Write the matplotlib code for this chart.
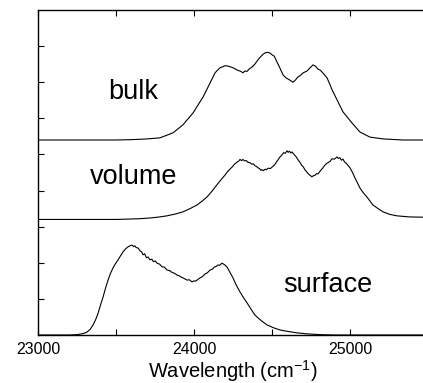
import matplotlib
matplotlib.use("Agg")
import matplotlib.pyplot as plt

plt.rcParams['font.family'] = ['Liberation Sans', 'DejaVu Sans']
plt.rcParams['mathtext.fontset'] = 'custom'
plt.rcParams['mathtext.rm'] = 'Liberation Sans'
plt.rcParams['mathtext.it'] = 'Liberation Sans'

# Spectra (wavenumber, intensity incl. vertical offset)
bulk_x = [23000, 23500, 23600, 23700, 23782, 23866, 23929, 23994, 24058, 24103,
          24135, 24150, 24167, 24185, 24200, 24212, 24230, 24245, 24263, 24280,
          24300, 24314, 24325, 24340, 24355, 24372, 24390, 24410, 24430, 24445,
          24455, 24470, 24487, 24500, 24515, 24532, 24550, 24571, 24590, 24610,
          24635, 24650, 24665, 24679, 24700, 24724, 24740, 24763, 24780, 24795,
          24808, 24830, 24853, 24870, 24885, 24917, 24955, 25013, 25064, 25128,
          25212, 25340, 25500]
bulk_y = [5.40, 5.40, 5.41, 5.43, 5.46, 5.60, 5.82, 6.15, 6.59, 6.98,
          7.26, 7.33, 7.40, 7.43, 7.46, 7.45, 7.43, 7.41, 7.37, 7.33,
          7.30, 7.26, 7.31, 7.30, 7.37, 7.42, 7.50, 7.62, 7.72, 7.78,
          7.81, 7.83, 7.81, 7.76, 7.72, 7.56, 7.40, 7.20, 7.12, 7.07,
          7.00, 7.06, 7.14, 7.18, 7.26, 7.31, 7.38, 7.48, 7.44, 7.36,
          7.34, 7.24, 7.12, 6.95, 6.79, 6.51, 6.18, 5.87, 5.62, 5.48,
          5.43, 5.40, 5.40]

volume_x = [23000, 23500, 23650, 23718, 23780, 23827, 23880, 23929, 23975, 24019,
            24050, 24083, 24115, 24147, 24175, 24199, 24220, 24244, 24260, 24276,
            24285, 24295, 24305, 24314, 24325, 24335, 24347, 24359, 24370, 24380,
            24390, 24400, 24410, 24420, 24428, 24436, 24445, 24455, 24465, 24475,
            24490, 24506, 24518, 24530, 24540, 24551, 24562, 24575, 24585, 24596,
            24604, 24612, 24620, 24628, 24645, 24656, 24667, 24678, 24690, 24700,
            24712, 24722, 24735, 24745, 24756, 24765, 24775, 24785, 24795, 24810,
            24825, 24838, 24853, 24870, 24885, 24900, 24917, 24926, 24935, 24945,
            24955, 24965, 24975, 25000, 25016, 25032, 25048, 25064, 25085, 25109,
            25128, 25147, 25180, 25212, 25255, 25301, 25380, 25500]
volume_y = [3.20, 3.20, 3.22, 3.24, 3.27, 3.30, 3.35, 3.41, 3.50, 3.60,
            3.70, 3.82, 3.98, 4.16, 4.31, 4.43, 4.55, 4.65, 4.73, 4.79,
            4.81, 4.86, 4.83, 4.86, 4.82, 4.83, 4.78, 4.77, 4.73, 4.74,
            4.69, 4.67, 4.63, 4.61, 4.56, 4.58, 4.55, 4.59, 4.58, 4.62,
            4.61, 4.67, 4.72, 4.80, 4.86, 4.93, 4.98, 5.05, 5.03, 5.10,
            5.06, 5.09, 5.04, 5.07, 4.98, 4.93, 4.85, 4.79, 4.70, 4.66,
            4.57, 4.52, 4.45, 4.42, 4.38, 4.41, 4.42, 4.47, 4.46, 4.55,
            4.62, 4.70, 4.76, 4.80, 4.88, 4.87, 4.93, 4.89, 4.91, 4.84,
            4.87, 4.79, 4.76, 4.63, 4.50, 4.35, 4.21, 4.07, 3.94, 3.82,
            3.71, 3.60, 3.50, 3.41, 3.34, 3.30, 3.27, 3.26]

surface_x = [23000, 23200, 23250, 23290, 23314, 23335, 23353, 23370, 23385, 23400,
             23417, 23433, 23449, 23465, 23481, 23497, 23513, 23530, 23545, 23560,
             23577, 23590, 23603, 23612, 23620, 23630, 23641, 23655, 23665, 23673,
             23684, 23695, 23705, 23718, 23730, 23740, 23752, 23763, 23780, 23795,
             23810, 23827, 23845, 23860, 23875, 23891, 23905, 23920, 23935, 23955,
             23970, 23987, 24000, 24010, 24025, 24038, 24055, 24070, 24085, 24103,
             24118, 24130, 24142, 24154, 24165, 24179, 24195, 24212, 24230, 24250,
             24270, 24295, 24318, 24340, 24365, 24391, 24430, 24468, 24510, 24551,
             24600, 24660, 24730, 24808, 24900, 25500]
surface_y = [0.00, 0.00, 0.01, 0.04, 0.08, 0.16, 0.28, 0.43, 0.60, 0.82,
             1.05, 1.30, 1.52, 1.71, 1.86, 1.98, 2.08, 2.20, 2.30, 2.38,
             2.44, 2.47, 2.49, 2.45, 2.47, 2.42, 2.41, 2.33, 2.30, 2.22,
             2.25, 2.14, 2.16, 2.08, 2.10, 2.03, 2.05, 1.99, 1.96, 1.89,
             1.88, 1.80, 1.78, 1.73, 1.71, 1.66, 1.64, 1.60, 1.57, 1.52,
             1.53, 1.47, 1.50, 1.49, 1.54, 1.58, 1.62, 1.69, 1.72, 1.80,
             1.82, 1.88, 1.90, 1.94, 1.93, 1.99, 1.95, 1.88, 1.74, 1.58,
             1.39, 1.19, 1.03, 0.89, 0.72, 0.55, 0.40, 0.28, 0.20, 0.14,
             0.10, 0.06, 0.03, 0.01, 0.00, 0.00]

labels = ["bulk", "volume", "surface"]
label_x = [23608, 23615, 24859]
label_y = [6.53, 4.17, 1.20]

fig = plt.figure(figsize=(4.23, 3.83), dpi=100)
ax = fig.add_axes([38/423, 48/383, 390/423, 325/383])

for xs, ys in [(bulk_x, bulk_y), (volume_x, volume_y), (surface_x, surface_y)]:
    ax.plot(xs, ys, color="black", lw=0.8)

for t, x, y in zip(labels, label_x, label_y):
    ax.text(x, y, t, fontsize=19.5, ha="center", va="baseline")

ax.set_xlim(23000, 25500)
ax.set_ylim(0, 9)
ax.set_xticks([23000, 24000, 25000])
ax.set_xticks([23500, 24500], minor=True)
ax.set_yticks(range(1, 9))
ax.set_yticklabels([])
ax.tick_params(which="both", direction="in", top=True, length=4, width=0.8,
               labelsize=11.5, pad=5)
ax.set_xlabel(r"Wavelength (cm$^{-1}$)", fontsize=14.5, labelpad=1)
for s in ax.spines.values():
    s.set_linewidth(1.0)

fig.savefig("out.png", dpi=100)
